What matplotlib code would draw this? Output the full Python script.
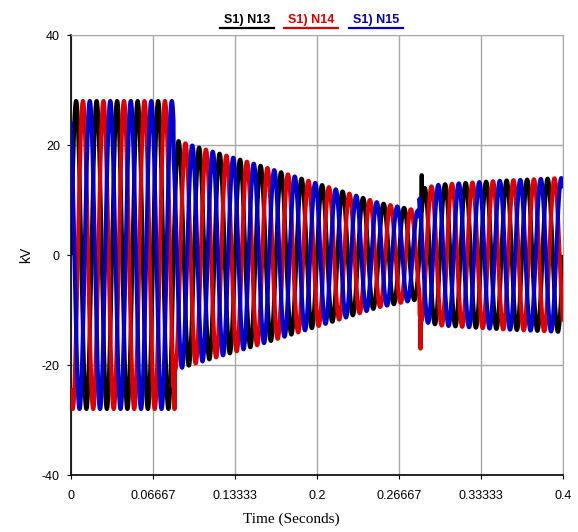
import numpy as np
import matplotlib
matplotlib.use("Agg")
import matplotlib.pyplot as plt
from matplotlib.lines import Line2D

# ---- data ----
series_names = ["S1) N13", "S1) N14", "S1) N15"]
series_colors = ["#000000", "#e00000", "#0000d0"]
phase_deg = [0, -120, 120]          # phase of each trace
freq_hz = 60

# peak-amplitude envelope (kV)
env_t = [0.0, 0.0833, 0.0834, 0.10, 0.15, 0.20, 0.25, 0.2833, 0.2834, 0.30, 0.35, 0.40]
env_kv = [28.0, 28.0, 21.0, 19.8, 16.5, 13.0, 9.5, 8.0, 12.0, 12.8, 13.5, 14.0]

# short transients visible in the picture (trace index, time, value kV)
spike_trace = [1, 0, 1]
spike_t = [0.0840, 0.2850, 0.2840]
spike_kv = [-28.0, 14.5, -17.0]

xticks = [0, 0.06667, 0.13333, 0.2, 0.26667, 0.33333, 0.4]
xtick_labels = ["0", "0.06667", "0.13333", "0.2", "0.26667", "0.33333", "0.4"]
yticks = [-40, -20, 0, 20, 40]
ytick_labels = ["-40", "-20", "0", "20", "40"]

# ---- figure ----
W, H = 578, 532
fig = plt.figure(figsize=(W / 100, H / 100), dpi=100)
ax = fig.add_axes([71 / W, 1 - 475 / H, (563 - 71) / W, (475 - 35) / H])

t = np.linspace(0, 0.4, 12001)
amp = np.interp(t, env_t, env_kv)
for i, (name, col, ph) in enumerate(zip(series_names, series_colors, phase_deg)):
    y = amp * np.sin(2 * np.pi * freq_hz * t + np.deg2rad(ph))
    for tr, st, sv in zip(spike_trace, spike_t, spike_kv):
        if tr == i:
            k = np.searchsorted(t, st)
            y[k:k + 8] = sv
    ax.plot(t, y, color=col, lw=3.0, solid_capstyle="butt", zorder=2 + i)

ax.set_xlim(0, 0.4)
ax.set_ylim(-40, 40)
ax.set_xticks(xticks)
ax.set_xticklabels(xtick_labels)
ax.set_yticks(yticks)
ax.set_yticklabels(ytick_labels)
ax.grid(True, color="#a8a8a8", lw=1.0)
ax.set_axisbelow(True)
for s in ["top", "right"]:
    ax.spines[s].set_color("#a8a8a8")
for s in ["left", "bottom"]:
    ax.spines[s].set_color("black")
    ax.spines[s].set_linewidth(1.2)
ax.tick_params(axis="both", labelsize=9, length=3, width=0.8)
for lab in ax.get_xticklabels() + ax.get_yticklabels():
    lab.set_family("Liberation Sans")
ax.tick_params(axis="x", pad=8)
ax.tick_params(axis="y", pad=5)

ax.set_ylabel("kV", family="Liberation Sans", fontsize=10)
ax.yaxis.set_label_coords((33 - 71) / 492, 0.5)
ax.set_xlabel("Time (Seconds)", family="Liberation Serif", fontsize=11)
ax.xaxis.set_label_coords((291 - 71) / 492, (475 - 513) / 440)

# legend-like header with underlines
xs = [247, 311, 376]
for name, col, x in zip(series_names, series_colors, xs):
    fig.text(x / W, 1 - 20 / H, name, color=col, fontsize=9, fontweight="bold",
             family="Liberation Sans", ha="center", va="center")
    fig.add_artist(Line2D([(x - 27) / W, (x + 27) / W], [1 - 28 / H, 1 - 28 / H],
                          color=col, lw=1.6, transform=fig.transFigure))

fig.savefig("out.png", dpi=100)
